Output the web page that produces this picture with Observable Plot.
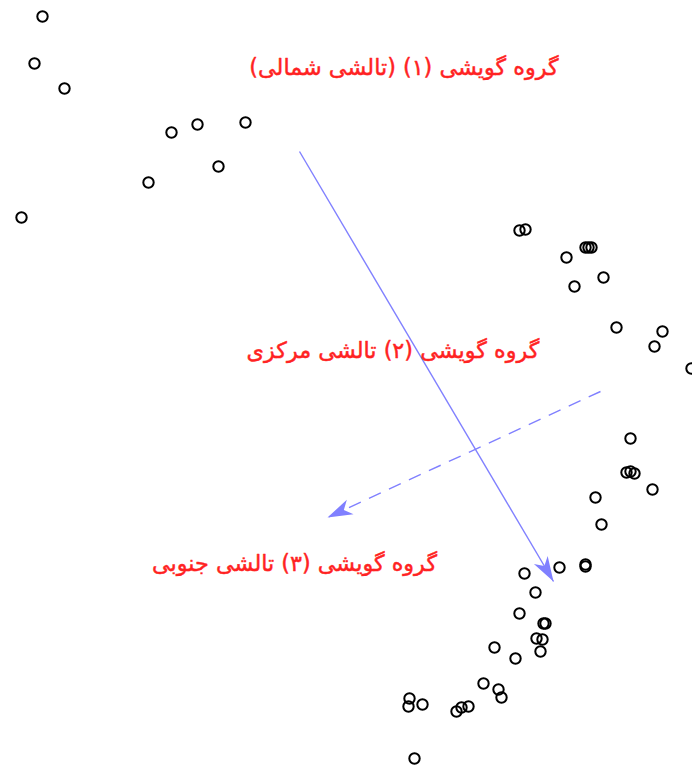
<!DOCTYPE html>
<html>
<head>
<meta charset="utf-8">
<script src="https://cdn.jsdelivr.net/npm/d3@7"></script>
<script src="https://cdn.jsdelivr.net/npm/@observablehq/plot@0.6"></script>
<style>
  html, body { margin: 0; padding: 0; background: #fff; }
  #chart svg { display: block; }
</style>
</head>
<body>
<div id="chart"></div>
<script>
// Point coordinates (dimension 1, dimension 2)
const dim1 = [42, 34, 64, 171, 197, 245, 218, 148, 21,
  519, 525, 585, 588, 591, 566, 603, 574, 616, 662, 654, 691,
  630, 626, 630, 634, 652, 595, 601, 585, 585, 559, 524, 535,
  519, 543, 545, 536, 542, 494, 540, 515, 483, 498, 501,
  409, 408, 422, 456, 461, 468, 414];
const dim2 = [16, 63, 88, 132, 124, 122, 166, 182, 217,
  230, 229, 247, 247, 247, 257, 277, 286, 327, 331, 346, 368,
  438, 472, 471, 473, 489, 497, 524, 564, 566, 567, 573, 592,
  613, 623, 623, 638, 639, 647, 651, 658, 683, 689, 697,
  698, 706, 704, 711, 707, 706, 758];

// Arrows
const arrowX1 = [299, 600];
const arrowY1 = [151, 391];
const arrowX2 = [553, 327];
const arrowY2 = [581, 517];
const arrowDashed = [false, true];

// Group labels
const labelText = [
  "گروه گویشی (۱) (تالشی شمالی)",
  "گروه گویشی (۲) تالشی مرکزی",
  "گروه گویشی (۳) تالشی جنوبی"
];
const labelX = [403.5, 392.5, 294];
const labelY = [67, 350, 563];

const points = dim1.map((x, i) => ({x, y: dim2[i]}));
const arrows = arrowX1.map((x1, i) => ({x1, y1: arrowY1[i], x2: arrowX2[i], y2: arrowY2[i], dashed: arrowDashed[i]}));
const labels = labelText.map((t, i) => ({t, x: labelX[i], y: labelY[i]}));

const W = 692, H = 765;
const arrowColor = "#8080ff";
const textColor = "#ff2222";

const plot = Plot.plot({
  width: W,
  height: H,
  margin: 0,
  x: {domain: [0, W], range: [0, W], axis: null},
  y: {domain: [0, H], range: [0, H], axis: null},
  style: {background: "#fff", overflow: "visible"},
  marks: [
    Plot.link(arrows.filter(d => !d.dashed), {x1: "x1", y1: "y1", x2: "x2", y2: "y2",
      stroke: arrowColor, strokeWidth: 1.4, className: "arrow-solid"}),
    Plot.link(arrows.filter(d => d.dashed), {x1: "x1", y1: "y1", x2: "x2", y2: "y2",
      stroke: arrowColor, strokeWidth: 1.4, strokeDasharray: "13,9", className: "arrow-dashed"}),
    Plot.dot(points, {x: "x", y: "y", r: 5.2, stroke: "#000", strokeWidth: 2, fill: "none"}),
    Plot.text(labels, {x: "x", y: "y", text: "t", fill: textColor, stroke: textColor, strokeWidth: 0.45,
      fontSize: 22.3, fontFamily: "DejaVu Sans, sans-serif", textAnchor: "middle", lineAnchor: "middle"})
  ]
});

// filled stealth arrowheads
const svg = d3.select(plot);
const defs = svg.insert("defs", ":first-child");
defs.append("marker")
  .attr("id", "stealth")
  .attr("viewBox", "-26 -10 28 20")
  .attr("refX", 0).attr("refY", 0)
  .attr("markerWidth", 28).attr("markerHeight", 20)
  .attr("markerUnits", "userSpaceOnUse")
  .attr("orient", "auto")
  .append("path")
  .attr("d", "M0,0 L-25,-8 L-18,0 L-25,8 Z")
  .attr("fill", arrowColor)
  .attr("stroke", "none");
svg.selectAll(".arrow-solid path, .arrow-dashed path").attr("marker-end", "url(#stealth)");

document.getElementById("chart").appendChild(plot);
</script>
</body>
</html>
